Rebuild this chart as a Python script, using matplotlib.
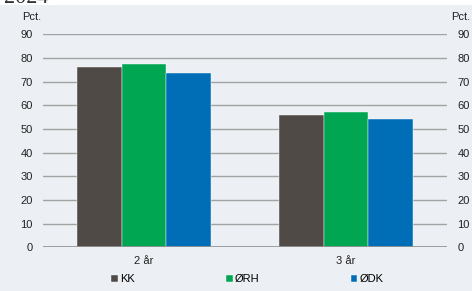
import matplotlib
matplotlib.use("Agg")
import matplotlib.pyplot as plt
import numpy as np

categories = ["2 år", "3 år"]
series_names = ["KK", "ØRH", "ØDK"]
kk = [76.0, 56.0]
orh = [77.5, 57.2]
odk = [73.5, 54.2]
colors = ["#504A46", "#00A651", "#006DB7"]
yticks = [0, 10, 20, 30, 40, 50, 60, 70, 80, 90]

W, H = 472, 291
bg = "#ECEFF3"
plt.rcParams["font.family"] = ["Liberation Sans", "DejaVu Sans"]
fig = plt.figure(figsize=(W / 100, H / 100), dpi=100, facecolor=bg)
# white strip at the top with clipped title
fig.patches.append(plt.Rectangle((0, 1 - 4.5 / H), 1, 4.5 / H, transform=fig.transFigure,
                                 facecolor="white", edgecolor="none", zorder=0))
fig.text(4 / W, 1 - 3 / H, "2024", fontsize=16, color="#333333", va="baseline",
         ha="left", family="Liberation Serif")

ax = fig.add_axes([43 / W, 1 - 247.3 / H, (447 - 43) / W, (247.3 - 34.3) / H])
ax.set_facecolor(bg)
x = np.arange(len(categories))
bw = 0.222
for i, (vals, c, name) in enumerate(zip([kk, orh, odk], colors, series_names)):
    ax.bar(x + (i - 1) * bw, vals, width=bw, color=c, label=name, zorder=3,
           edgecolor="#FFFFFF", linewidth=0.3)
ax.set_xlim(-0.5, 1.5)
ax.set_ylim(0, 90)
ax.set_yticks(yticks)
for y in yticks[1:]:
    ax.axhline(y, color="#A3A3A3", lw=1.0, zorder=1)
ax.axhline(0, color="#909090", lw=1.2, zorder=4)
for s in ax.spines.values():
    s.set_visible(False)
ax.tick_params(axis="y", length=0, labelsize=8, pad=7.5, colors="#222222",
               labelright=True, right=False)
ax.tick_params(axis="x", length=0, labelsize=8, pad=6, colors="#222222")
ax.set_xticks(x)
ax.set_xticklabels(categories)

fig.text(22 / W, 1 - 17 / H, "Pct.", fontsize=8, color="#222222", ha="left", va="center")
fig.text(470 / W, 1 - 17 / H, "Pct.", fontsize=8, color="#222222", ha="right", va="center")

leg = fig.legend(loc="center", bbox_to_anchor=(247.5 / W, 1 - 279 / H), ncol=3,
                 frameon=False, fontsize=8, handlelength=0.6, handleheight=0.6,
                 handletextpad=0.2, columnspacing=8.2, borderaxespad=0)
fig.savefig("out.png", dpi=100, facecolor=bg)
